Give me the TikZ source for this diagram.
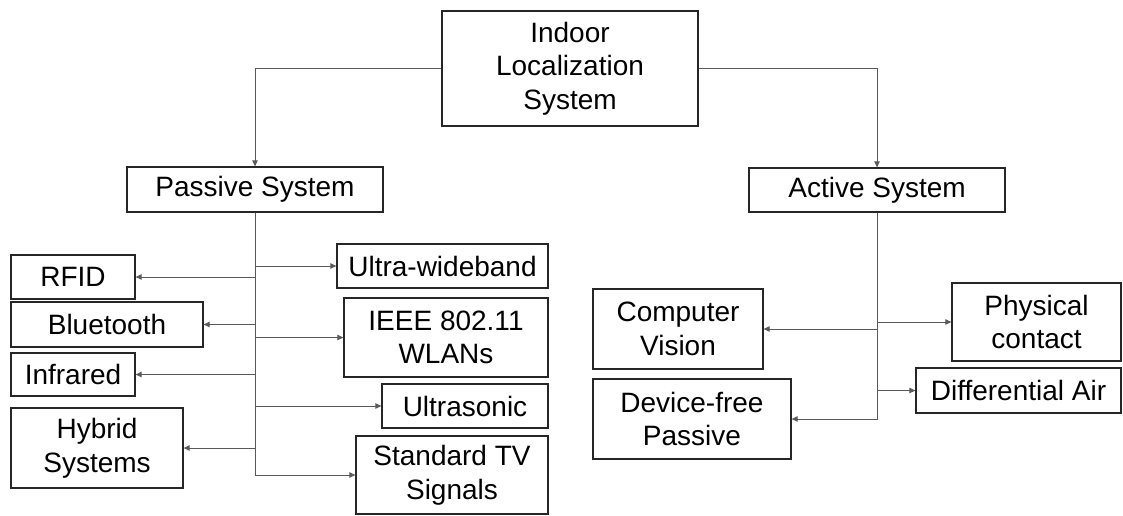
\documentclass[tikz,border=0pt]{standalone}
\usepackage{fontspec}
\setmainfont{Liberation Sans}
\usetikzlibrary{arrows.meta}

\tikzset{
  box/.style={draw=black!85, line width=1.3pt, fill=white, inner sep=0pt,
              align=center, font=\fontsize{28}{33.5}\selectfont},
  conn/.style={draw=black!65, line width=0.9pt,
               -{Triangle[length=6pt,width=5.5pt]}},
}
% place a box by its corners: \boxat{name}{x1}{y1}{x2}{y2}{text}
\newcommand{\boxat}[6]{%
  \node[box, minimum width={(#4-#2)*1pt}, minimum height={(#5-#3)*1pt}]
    (#1) at ({(#2+#4)/2},{(#3+#5)/2}) {#6};}

\begin{document}
\begin{tikzpicture}[x=1pt,y=-1pt]
  \useasboundingbox (0,0) rectangle (1123,515);

  % root and the two system classes
  \boxat{root}{442}{11}{698}{126}{Indoor\\Localization\\System}
  \boxat{passive}{127}{167}{383}{212}{Passive System}
  \boxat{active}{749}{168}{1005}{212}{Active System}

  % passive technologies, left column
  \boxat{rfid}{11}{255}{135}{299}{RFID}
  \boxat{bt}{11}{302}{203}{347}{Bluetooth}
  \boxat{ir}{11}{353}{135}{396}{Infrared}
  \boxat{hybrid}{11}{408}{183}{488}{Hybrid\\Systems}

  % passive technologies, right column
  \boxat{uwb}{337}{244}{548}{288}{Ultra-wideband}
  \boxat{wlan}{344}{298}{548}{377}{IEEE 802.11\\WLANs}
  \boxat{us}{382}{384}{548}{428}{Ultrasonic}
  \boxat{tv}{356}{436}{548}{514}{Standard TV\\Signals}

  % active technologies
  \boxat{cv}{593}{289}{763}{369}{Computer\\Vision}
  \boxat{dfp}{593}{379}{791}{459}{Device-free\\Passive}
  \boxat{phys}{952}{283}{1121}{361}{Physical\\contact}
  \boxat{air}{916}{368}{1121}{413}{Differential Air}

  % root to the two classes
  \draw[conn] (root.west) -| (passive.north);
  \draw[conn] (root.east) -| (active.north);

  % passive branches
  \foreach \t in {rfid,bt,ir,hybrid}
    \draw[conn] (passive.south) |- (\t.east);
  \foreach \t in {uwb,wlan,us,tv}
    \draw[conn] (passive.south) |- (\t.west);

  % active branches
  \foreach \t in {cv,dfp}
    \draw[conn] (active.south) |- (\t.east);
  \foreach \t in {phys,air}
    \draw[conn] (active.south) |- (\t.west);
\end{tikzpicture}
\end{document}
